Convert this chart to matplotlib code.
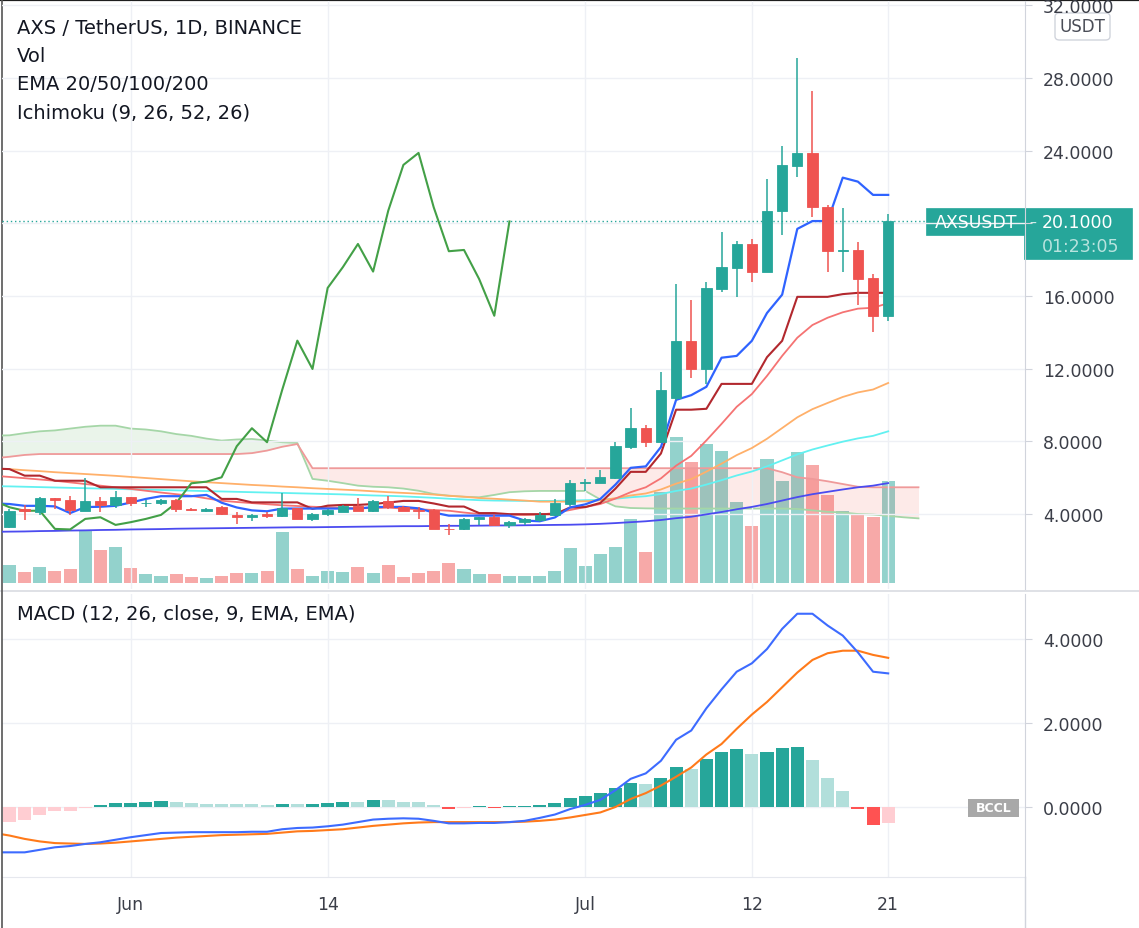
import matplotlib
matplotlib.use("Agg")
import matplotlib.pyplot as plt
import matplotlib.patches as mpatches
from matplotlib.lines import Line2D
import numpy as np
import pandas as pd

# AXS/USDT daily candles, 24 May - 21 Jul 2021
dates = pd.date_range("2021-05-24", "2021-07-21", freq="D")
opens = [3.3, 4.25, 4.1, 4.88, 4.77, 4.18, 4.73, 4.5, 4.92, 4.58, 4.6, 4.78, 4.3, 4.18, 4.4, 3.95, 3.82,
         4.0, 3.91, 4.31, 3.73, 4.0, 4.13, 4.46, 4.18, 4.73, 4.4, 4.22, 4.22, 3.2, 3.18, 3.73, 3.82, 3.4,
         3.58, 3.69, 3.95, 4.55, 5.72, 5.72, 5.97, 7.67, 8.72, 7.95, 10.37, 13.54, 12.0, 16.38, 17.52,
         18.86, 17.34, 20.66, 23.17, 23.87, 20.88, 18.46, 18.53, 16.97, 14.91]
highs = [4.25, 4.5, 4.95, 4.9, 5.0, 6.0, 4.95, 5.28, 4.95, 4.75, 4.8, 4.85, 4.35, 4.35, 4.45, 4.09, 3.98,
         4.1, 5.16, 4.35, 4.05, 4.28, 4.5, 4.86, 4.78, 5.0, 4.45, 4.37, 4.25, 3.45, 3.78, 3.85, 3.95, 3.6,
         3.78, 4.09, 4.8, 5.89, 5.94, 6.4, 7.98, 9.82, 8.9, 11.83, 16.66, 15.8, 16.75, 19.5, 19.0,
         19.14, 22.44, 24.24, 29.08, 27.26, 21.0, 20.82, 18.95, 17.19, 20.51]
lows = [3.25, 3.65, 3.95, 4.3, 3.95, 4.15, 4.1, 4.33, 4.45, 4.4, 4.5, 4.1, 4.15, 4.1, 3.95, 3.44, 3.6,
        3.8, 3.85, 3.7, 3.62, 3.9, 4.1, 4.15, 4.1, 4.25, 4.15, 3.75, 3.15, 2.82, 3.12, 3.42, 3.35, 3.25,
        3.42, 3.55, 3.9, 4.42, 5.24, 5.7, 5.9, 7.55, 7.67, 7.9, 10.3, 11.47, 11.16, 16.2, 15.93,
        16.75, 17.3, 19.37, 22.57, 20.33, 17.3, 17.3, 15.5, 14.03, 14.64]
closes = [4.18, 4.15, 4.9, 4.78, 4.2, 4.73, 4.5, 4.92, 4.6, 4.62, 4.78, 4.28, 4.2, 4.3, 4.0, 3.82, 3.95,
          3.88, 4.31, 3.73, 4.0, 4.24, 4.46, 4.18, 4.73, 4.37, 4.18, 4.18, 3.18, 3.15, 3.73, 3.82, 3.4,
          3.55, 3.73, 3.95, 4.6, 5.69, 5.78, 6.02, 7.73, 8.72, 7.95, 10.83, 13.54, 11.98, 16.44, 17.58,
          18.86, 17.34, 20.69, 23.21, 23.87, 20.88, 18.46, 18.53, 16.93, 14.91, 20.1]
volumes = [18.3, 11.3, 15.7, 12.3, 13.7, 51.7, 33, 35.7, 14.7, 8.7, 7.3, 8.7, 6, 4.7, 7.3, 10, 10, 12.3,
           51.3, 13.7, 7.3, 12.3, 11, 15.7, 10, 18.3, 6, 10, 12.3, 19.7, 13.7, 8.7, 8.7, 7.3, 7.3,
           7, 12, 35, 17, 29, 36, 64, 31, 91, 146, 121, 139, 132, 81, 57, 124, 102, 131, 118, 88, 72,
           69, 66, 102]

# indicator lines, 23 May - 21 Jul
ema20 = [6.1, 6.04, 5.97, 5.9, 5.83, 5.74, 5.65, 5.56, 5.47, 5.38, 5.28, 5.18, 5.09, 5.0, 4.86, 4.73,
         4.66, 4.6, 4.54, 4.48, 4.44, 4.4, 4.37, 4.34, 4.31, 4.33, 4.35, 4.3, 4.26, 4.22, 4.18, 4.08,
         4.0, 3.98, 3.96, 3.95, 3.97, 4.05, 4.22, 4.38, 4.55, 4.85, 5.2, 5.47, 5.96, 6.66, 7.2, 8.05,
         8.96, 9.9, 10.6, 11.6, 12.7, 13.7, 14.4, 14.8, 15.1, 15.3, 15.35, 15.6]
ema50 = [6.5, 6.47, 6.41, 6.36, 6.3, 6.25, 6.2, 6.15, 6.1, 6.04, 5.98, 5.92, 5.86, 5.8, 5.75, 5.7, 5.65,
         5.6, 5.56, 5.51, 5.47, 5.42, 5.38, 5.34, 5.3, 5.25, 5.2, 5.16, 5.12, 5.07, 5.0, 4.95, 4.88,
         4.84, 4.79, 4.74, 4.68, 4.68, 4.68, 4.7, 4.75, 4.87, 5.02, 5.13, 5.35, 5.67, 5.92, 6.33, 6.77,
         7.24, 7.63, 8.14, 8.73, 9.32, 9.77, 10.11, 10.44, 10.69, 10.85, 11.21]
ema100 = [5.53, 5.52, 5.5, 5.48, 5.46, 5.44, 5.42, 5.4, 5.38, 5.36, 5.34, 5.32, 5.3, 5.28, 5.26, 5.24,
          5.22, 5.2, 5.18, 5.16, 5.14, 5.12, 5.1, 5.08, 5.05, 5.02, 5.0, 4.97, 4.93, 4.89, 4.84, 4.8,
          4.76, 4.74, 4.73, 4.72, 4.72, 4.72, 4.74, 4.76, 4.78, 4.84, 4.92, 4.98, 5.1, 5.27, 5.4, 5.62,
          5.86, 6.12, 6.34, 6.62, 6.95, 7.28, 7.55, 7.77, 7.98, 8.16, 8.3, 8.55]
ema200 = [3.02, 3.03, 3.04, 3.06, 3.07, 3.09, 3.1, 3.12, 3.13, 3.15, 3.16, 3.17, 3.19, 3.2, 3.21, 3.22,
          3.23, 3.24, 3.25, 3.26, 3.27, 3.27, 3.28, 3.29, 3.3, 3.31, 3.32, 3.33, 3.33, 3.34, 3.35, 3.35,
          3.36, 3.37, 3.37, 3.38, 3.39, 3.4, 3.41, 3.43, 3.46, 3.5, 3.55, 3.6, 3.67, 3.77, 3.85, 3.98,
          4.11, 4.26, 4.39, 4.55, 4.74, 4.93, 5.09, 5.22, 5.35, 5.47, 5.56, 5.7]
conversion = [4.58, 4.55, 4.45, 4.45, 4.42, 4.05, 4.38, 4.4, 4.45, 4.63, 4.83, 4.98, 4.98, 4.98, 5.05,
              4.62, 4.36, 4.2, 4.15, 4.3, 4.3, 4.3, 4.3, 4.3, 4.3, 4.38, 4.39, 4.39, 4.31, 4.08, 3.91,
              3.91, 3.91, 3.91, 3.91, 3.64, 3.6, 3.81, 4.36, 4.53, 4.83, 5.62, 6.54, 6.62, 7.69, 10.28,
              10.54, 11.0, 12.6, 12.7, 13.53, 15.06, 16.07, 19.69, 20.12, 20.12, 22.51, 22.29, 21.56,
              21.56]
base = [6.5, 6.47, 6.11, 6.11, 5.83, 5.83, 5.83, 5.47, 5.47, 5.47, 5.47, 5.47, 5.47, 5.47, 5.47, 4.83,
        4.83, 4.64, 4.64, 4.64, 4.64, 4.28, 4.46, 4.5, 4.5, 4.55, 4.63, 4.72, 4.72, 4.58, 4.41, 4.41,
        4.05, 4.05, 3.99, 3.99, 3.99, 3.99, 4.36, 4.38, 4.61, 5.4, 6.32, 6.32, 7.33, 9.74, 9.74, 9.79,
        11.16, 11.16, 11.16, 12.63, 13.53, 15.95, 15.95, 15.95, 16.1, 16.17, 16.17, 16.17]
macd_line = [-1.08, -1.08, -1.08, -1.02, -0.96, -0.93, -0.88, -0.84, -0.78, -0.72, -0.67, -0.62, -0.61,
             -0.6, -0.6, -0.6, -0.6, -0.59, -0.59, -0.53, -0.5, -0.49, -0.46, -0.42, -0.36, -0.3,
             -0.28, -0.27, -0.28, -0.33, -0.39, -0.39, -0.38, -0.38, -0.36, -0.33, -0.26, -0.18,
             -0.05, 0.05, 0.17, 0.4, 0.67, 0.8, 1.1, 1.6, 1.82, 2.35, 2.8, 3.22, 3.42, 3.76, 4.24,
             4.6, 4.6, 4.32, 4.08, 3.68, 3.22, 3.18]
signal_line = [-0.62, -0.68, -0.76, -0.82, -0.86, -0.87, -0.88, -0.87, -0.85, -0.82, -0.79, -0.76,
               -0.73, -0.71, -0.69, -0.67, -0.66, -0.65, -0.64, -0.61, -0.58, -0.57, -0.55, -0.53,
               -0.49, -0.45, -0.42, -0.39, -0.37, -0.36, -0.36, -0.36, -0.36, -0.36, -0.36, -0.35,
               -0.33, -0.3, -0.25, -0.19, -0.13, 0.0, 0.19, 0.33, 0.51, 0.72, 0.94, 1.25, 1.5, 1.86,
               2.2, 2.5, 2.85, 3.2, 3.5, 3.66, 3.72, 3.72, 3.62, 3.55]
# histogram, 24 May - 21 Jul
macd_hist = [-0.36, -0.3, -0.2, -0.1, -0.09, -0.02, 0.04, 0.1, 0.105, 0.13, 0.14, 0.12, 0.1, 0.08,
             0.07, 0.065, 0.06, 0.055, 0.07, 0.06, 0.07, 0.09, 0.12, 0.11, 0.17, 0.16, 0.12, 0.11,
             0.04, -0.05, -0.02, 0.03, -0.02, 0.02, 0.025, 0.05, 0.1, 0.21, 0.27, 0.33, 0.44, 0.56,
             0.55, 0.7, 0.94, 0.9, 1.14, 1.3, 1.38, 1.26, 1.3, 1.41, 1.42, 1.11, 0.68, 0.37, -0.04,
             -0.43, -0.37]

# Ichimoku leading spans (shifted forward), 23 May - 23 Jul
span_a = [8.31, 8.33, 8.45, 8.55, 8.6, 8.7, 8.8, 8.86, 8.86, 8.7, 8.65, 8.55, 8.4, 8.3, 8.15, 8.04,
          8.1, 8.13, 8.04, 7.95, 7.91, 5.93, 5.83, 5.7, 5.56, 5.5, 5.47, 5.4, 5.28, 5.1, 5.01, 4.95,
          4.92, 5.05, 5.2, 5.25, 5.27, 5.27, 5.27, 5.27, 4.8, 4.42, 4.33, 4.31, 4.3, 4.3, 4.3, 4.3,
          4.3, 4.3, 4.3, 4.3, 4.3, 4.28, 4.2, 4.12, 4.08, 4.0, 3.97, 3.9, 3.82, 3.76]
span_b = [7.07, 7.15, 7.25] + [7.3] * 14 + [7.35, 7.49, 7.7, 7.85] + [6.52] * 31 + \
         [6.3, 6.02, 5.93, 5.8, 5.65, 5.5, 5.47, 5.47, 5.47, 5.47]

tick_dates = ["2021-06-01", "2021-06-14", "2021-07-01", "2021-07-12", "2021-07-21"]
tick_labels = ["Jun", "14", "Jul", "12", "21"]
price_ticks = [4, 8, 12, 16, 20, 24, 28, 32]
macd_ticks = [0, 2, 4]

UP, DOWN = "#26a69a", "#ef5350"
TXT = "#3b3e48"
GRID = "#eef0f5"

W, H = 1139, 929
fig = plt.figure(figsize=(W / 100, H / 100), dpi=100)


def fbox(x0, y0, x1, y1):
    return [x0 / W, 1 - y1 / H, (x1 - x0) / W, (y1 - y0) / H]


ax = fig.add_axes(fbox(2, 2, 1025, 590))
axv = ax.twinx()
ax2 = fig.add_axes(fbox(2, 595, 1025, 878))
ax.set_zorder(2)
ax.patch.set_visible(False)
axv.set_zorder(1)

x = np.arange(len(dates))
xl = np.arange(-1, len(dates))
xc = np.arange(-1, len(span_a) - 1)
xlim = (-0.495, 67.03)
tick_pos = [dates.get_loc(pd.Timestamp(d)) for d in tick_dates]

# volume
o = np.array(opens)
c = np.array(closes)
vcol = np.where(c >= o, "#93d2cc", "#f7a9a8")
axv.bar(x, volumes, width=0.86, color=vcol, zorder=1)
axv.set_ylim(-6, 582)
axv.yaxis.set_visible(False)
for s in axv.spines.values():
    s.set_visible(False)

# cloud
a = np.array(span_a)
b = np.array(span_b)
ax.fill_between(xc, a, b, where=a >= b, interpolate=True, color="#43a047", alpha=0.11, lw=0, zorder=1)
ax.fill_between(xc, a, b, where=a < b, interpolate=True, color="#f44336", alpha=0.11, lw=0, zorder=1)
ax.plot(xc, a, color="#a5d6a7", lw=1.3, zorder=1.5)
ax.plot(xc, b, color="#ef9a9a", lw=1.3, zorder=1.5)

# EMAs
ax.plot(xl, ema200, color="#4b4bf0", lw=1.3, zorder=2)
ax.plot(xl, ema100, color="#62f1f1", lw=1.3, zorder=2)
ax.plot(xl, ema50, color="#ffb06a", lw=1.3, zorder=2)
ax.plot(xl, ema20, color="#f57373", lw=1.3, zorder=2)

# Ichimoku lines
ax.plot(xl, base, color="#b2282e", lw=1.5, zorder=2.5)
ax.plot(xl, conversion, color="#2f63ff", lw=1.6, zorder=2.5)
lag_x = x - 25
keep = lag_x >= -1
ax.plot(lag_x[keep], c[keep], color="#43a047", lw=1.5, zorder=2.5)

# candles
ccol = np.where(c >= o, UP, DOWN)
ax.vlines(x, lows, highs, colors=ccol, lw=1.1, zorder=3)
ax.bar(x, c - o, bottom=o, width=0.68, color=ccol, edgecolor=ccol, lw=0.6, zorder=3.5)

# last price dotted line
xp_label = (926 - 2) / (1025 - 2)
ax.axhline(closes[-1], xmax=xp_label, color=UP, lw=1, ls=(0, (1, 2)), zorder=2)

ax.set_xlim(*xlim)
ax.set_ylim(-0.127, 32.23)
ax.yaxis.tick_right()
ax.set_yticks(price_ticks)
# the 20 label sits under the last-price tag
ax.set_yticklabels(["" if t == 20 else f"{t:.4f}" for t in price_ticks])
ax.set_xticks(tick_pos)
ax.tick_params(axis="x", length=0, labelbottom=False)
ax.tick_params(axis="y", length=5, color="#d1d4dc", labelsize=12.5, labelcolor=TXT, pad=8)
ax.grid(True, color=GRID, lw=1)
for k in ["top", "left", "bottom"]:
    ax.spines[k].set_visible(False)
ax.spines["right"].set_color("#d1d4dc")

# MACD pane
hcols = []
prev = None
for v in macd_hist:
    rising = prev is None or v > prev
    if v >= 0:
        hcols.append("#26a69a" if rising else "#b2dfdb")
    else:
        hcols.append("#ffcdd2" if rising else "#ff5252")
    prev = v
ax2.bar(x, macd_hist, width=0.86, color=hcols, zorder=2)
ax2.plot(xl, signal_line, color="#ff7a1a", lw=1.5, zorder=3)
ax2.plot(xl, macd_line, color="#3d6bff", lw=1.5, zorder=3)
ax2.set_xlim(*xlim)
ax2.set_ylim(-1.667, 5.07)
ax2.yaxis.tick_right()
ax2.set_yticks(macd_ticks)
ax2.set_yticklabels([f"{t:.4f}" for t in macd_ticks])
ax2.set_xticks(tick_pos)
ax2.set_xticklabels(tick_labels)
ax2.tick_params(axis="x", length=0, labelsize=12.5, labelcolor=TXT, pad=13)
ax2.tick_params(axis="y", length=5, color="#d1d4dc", labelsize=12.5, labelcolor=TXT, pad=8)
ax2.grid(True, color=GRID, lw=1)
for k in ["top", "left"]:
    ax2.spines[k].set_visible(False)
ax2.spines["right"].set_color("#d1d4dc")
ax2.spines["bottom"].set_color("#e6e8ee")

# frame lines
fig.add_artist(Line2D([0, 1], [1 - 592 / H] * 2, color="#d9dbe2", lw=1.2))
fig.add_artist(Line2D([1025 / W] * 2, [0, 1 - 878 / H], color="#d1d4dc", lw=1))
fig.add_artist(Line2D([0, 1], [1 - 1 / H] * 2, color="#1e1e1e", lw=1.6))
fig.add_artist(Line2D([1.5 / W] * 2, [0, 1], color="#555555", lw=1.2))

# legend texts
legend_kw = dict(fontsize=14, color="#131722", va="center")
fig.text(17 / W, 1 - 28 / H, "AXS / TetherUS, 1D, BINANCE", **legend_kw)
fig.text(17 / W, 1 - 56 / H, "Vol", **legend_kw)
fig.text(17 / W, 1 - 85 / H, "EMA 20/50/100/200", **legend_kw)
fig.text(17 / W, 1 - 113 / H, "Ichimoku (9, 26, 52, 26)", **legend_kw)
fig.text(17 / W, 1 - 614 / H, "MACD (12, 26, close, 9, EMA, EMA)", **legend_kw)

# USDT currency box
fig.add_artist(mpatches.FancyBboxPatch((1055 / W, 1 - 41 / H), 55 / W, 27 / H,
                                       boxstyle="round,pad=0,rounding_size=0.004",
                                       fc="white", ec="#d1d4dc", lw=1, transform=fig.transFigure))
fig.text(1082 / W, 1 - 27 / H, "USDT", fontsize=12, color="#4a4d57", ha="center", va="center")

# last price label
ypix = H - ax.transData.transform((0, closes[-1]))[1]
top = ypix - 13
poly = [(926, top), (1132, top), (1132, top + 51), (1024, top + 51), (1024, top + 27), (926, top + 27)]
fig.add_artist(mpatches.Polygon([(px / W, 1 - py / H) for px, py in poly], closed=True,
                                fc=UP, ec=UP, lw=0.5, transform=fig.transFigure))
fig.text(935 / W, 1 - (top + 14) / H, "AXSUSDT", fontsize=12.5, color="white", va="center")
fig.text(1029 / W, 1 - (top + 14) / H, "–", fontsize=10, color="#d8f0ec", va="center")
fig.text(1042 / W, 1 - (top + 14) / H, f"{closes[-1]:.4f}", fontsize=12.5, color="white", va="center")
fig.text(1042 / W, 1 - (top + 38) / H, "01:23:05", fontsize=12.5, color="#b8e3de", va="center")

# watermark
fig.add_artist(mpatches.Rectangle((968 / W, 1 - 818 / H), 51 / W, 18 / H, fc="#a8a8a8", ec="none",
                                  transform=fig.transFigure))
fig.text(993.5 / W, 1 - 809 / H, "BCCL", fontsize=9, color="white", weight="bold", ha="center",
         va="center")

fig.savefig("out.png", dpi=100, facecolor="white")
